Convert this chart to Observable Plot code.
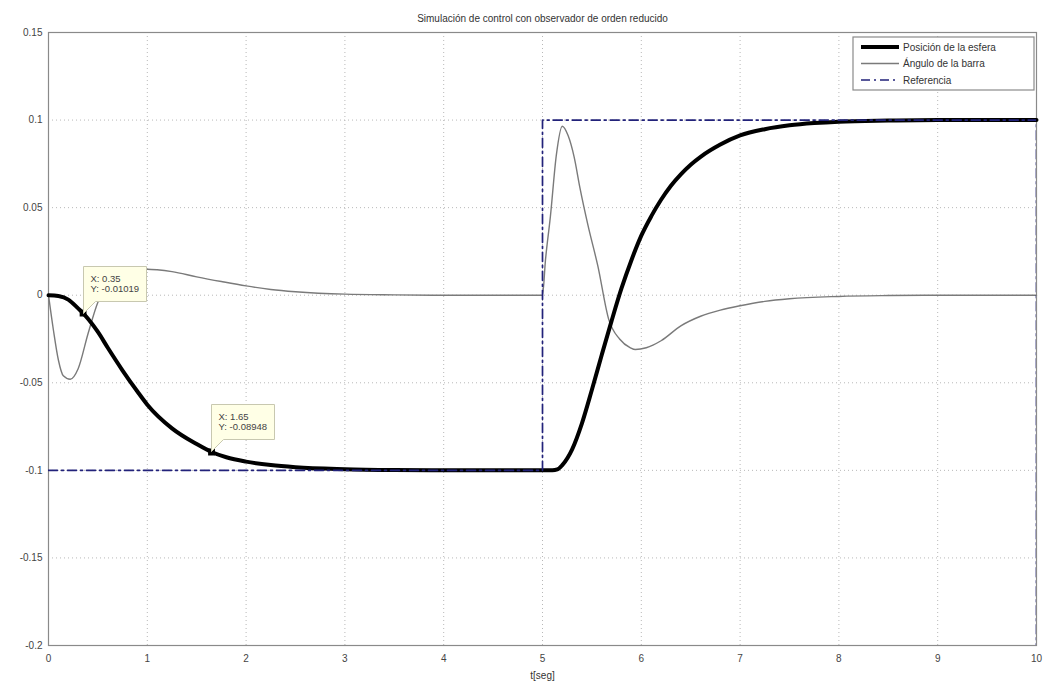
<!DOCTYPE html>
<html>
<head>
<meta charset="utf-8">
<script src="https://cdn.jsdelivr.net/npm/d3@7"></script>
<script src="https://cdn.jsdelivr.net/npm/@observablehq/plot@0.6"></script>
<style>
  html, body { margin: 0; padding: 0; background: #fff; }
  #chart { width: 1044px; height: 689px; }
</style>
</head>
<body>
<div id="chart"></div>
<script>
// ---- Data ----
const titleText = "Simulación de control con observador de orden reducido";
const xLabel = "t[seg]";
const xTicks = [0, 1, 2, 3, 4, 5, 6, 7, 8, 9, 10];
const yTicks = [-0.2, -0.15, -0.1, -0.05, 0, 0.05, 0.1, 0.15];
const yTickLabels = ["-0.2", "-0.15", "-0.1", "-0.05", "0", "0.05", "0.1", "0.15"];

const seriesNames = ["Posición de la esfera", "Ángulo de la barra", "Referencia"];

// Posición de la esfera
const posT = [0, 0.1, 0.2, 0.3, 0.35, 0.4, 0.5, 0.6, 0.75, 0.9, 1.0, 1.25, 1.5, 1.65, 1.8, 2.0, 2.25, 2.5, 3.0, 3.5, 4.0, 4.5, 5.0, 5.1, 5.15, 5.2, 5.3, 5.4, 5.5, 5.6, 5.7, 5.8, 5.9, 6.0, 6.1, 6.2, 6.3, 6.4, 6.5, 6.6, 6.8, 7.0, 7.25, 7.5, 7.75, 8.0, 8.5, 9.0, 10];
const posV = [0, -0.0005, -0.0025, -0.0075, -0.0102, -0.0135, -0.021, -0.03, -0.043, -0.055, -0.0625, -0.076, -0.085, -0.0895, -0.0925, -0.095, -0.097, -0.0982, -0.0993, -0.0998, -0.1, -0.1, -0.1, -0.1, -0.0995, -0.097, -0.088, -0.073, -0.054, -0.034, -0.0145, 0.004, 0.02, 0.034, 0.045, 0.0545, 0.0625, 0.069, 0.0745, 0.079, 0.086, 0.0912, 0.0948, 0.097, 0.0983, 0.0991, 0.0997, 0.1, 0.1];

// Ángulo de la barra
const angT = [0, 0.05, 0.1, 0.15, 0.22, 0.3, 0.4, 0.5, 0.6, 0.7, 0.85, 1.0, 1.1, 1.25, 1.5, 1.75, 2.0, 2.25, 2.5, 3.0, 3.5, 4.0, 5.0, 5.03, 5.08, 5.14, 5.2, 5.26, 5.32, 5.38, 5.46, 5.56, 5.67, 5.78, 5.89, 5.94, 6.05, 6.2, 6.4, 6.6, 6.8, 7.0, 7.25, 7.5, 8.0, 8.5, 9.0, 10];
const angV = [0, -0.02, -0.037, -0.046, -0.048, -0.042, -0.022, -0.004, 0.006, 0.011, 0.014, 0.0148, 0.0145, 0.0135, 0.0105, 0.0078, 0.0053, 0.0033, 0.002, 0.0006, 0.0002, 0, 0, 0.02, 0.045, 0.08, 0.0965, 0.091, 0.079, 0.061, 0.04, 0.0167, -0.0138, -0.025, -0.03, -0.031, -0.03, -0.026, -0.0175, -0.012, -0.0085, -0.006, -0.0035, -0.002, -0.0007, -0.0002, 0, 0];

// Referencia
const refT = [0, 5, 5, 10, 10];
const refV = [-0.1, -0.1, 0.1, 0.1, -0.3];

// Data tips
const tipX = [0.35, 1.65];
const tipY = [-0.0102, -0.0895];
const tipLabelY = ["-0.01019", "-0.08948"];

// ---- Build tables ----
const position = posT.map((t, i) => ({t, v: posV[i]}));
const angle = angT.map((t, i) => ({t, v: angV[i]}));
const reference = refT.map((t, i) => ({t, v: refV[i]}));
const tips = tipX.map((x, i) => ({x, y: tipY[i], label: tipLabelY[i]}));

const font = "'Liberation Sans', Arial, sans-serif";
const gridStyle = {stroke: "#b8b8b8", strokeOpacity: 1, strokeDasharray: "1,3", strokeWidth: 1};

const svg = Plot.plot({
  width: 1044,
  height: 689,
  marginLeft: 48,
  marginRight: 8,
  marginTop: 32,
  marginBottom: 44,
  style: {fontFamily: font, fontSize: "10px", color: "#444", background: "white"},
  x: {domain: [0, 10]},
  y: {domain: [-0.2, 0.15]},
  marks: [
    Plot.gridX(xTicks, gridStyle),
    Plot.gridY(yTicks, gridStyle),
    Plot.frame({stroke: "#8a8a8a", strokeWidth: 1.2}),
    Plot.axisX(xTicks, {tickSize: 0, tickPadding: 9, label: null, tickFormat: d => String(d)}),
    Plot.axisY(yTicks, {tickSize: 0, tickPadding: 6, label: null, tickFormat: d => yTickLabels[yTicks.indexOf(d)]}),
    Plot.line(angle, {x: "t", y: "v", stroke: "#7a7a7a", strokeWidth: 1.4, curve: "monotone-x"}),
    Plot.line(position, {x: "t", y: "v", stroke: "black", strokeWidth: 4, curve: "monotone-x"}),
    Plot.line(reference, {x: "t", y: "v", stroke: "#22227a", strokeWidth: 1.7, strokeDasharray: "9,4,2,4", clip: true}),
    Plot.dot(tips, {x: "x", y: "y", symbol: "square", r: 3, fill: "black", stroke: "black"}),
    Plot.tip(tips, {
      x: "x", y: "y",
      title: d => `X: ${d.x}\nY: ${d.label}`,
      anchor: "bottom-left",
      fill: "#ffffe6",
      stroke: "#c8c8b0",
      fontSize: 9.5,
      pathFilter: "none",
      textPadding: 7,
      pointerSize: 12
    }),
    Plot.text([titleText], {text: d => d, frameAnchor: "top", dy: -18, fontSize: 10, fill: "#333"}),
    Plot.text([xLabel], {text: d => d, frameAnchor: "bottom", dy: 33, fontSize: 10, fill: "#333"})
  ]
});

// ---- Legend (inside the axes, top-right) ----
const lg = d3.select(svg).append("g")
  .attr("font-family", font).attr("font-size", 10).attr("text-anchor", "start");
const lx = 853, ly = 37, lw = 181, lh = 53;
lg.append("rect").attr("x", lx).attr("y", ly).attr("width", lw).attr("height", lh)
  .attr("fill", "white").attr("stroke", "#8a8a8a").attr("stroke-width", 1.2);
const legendStyles = [
  {stroke: "black", width: 4, dash: null},
  {stroke: "#7a7a7a", width: 1.4, dash: null},
  {stroke: "#22227a", width: 1.7, dash: "9,4,2,4"}
];
seriesNames.forEach((name, i) => {
  const cy = ly + 10 + i * 16.5;
  const s = legendStyles[i];
  const ln = lg.append("line").attr("x1", lx + 8).attr("x2", lx + 46).attr("y1", cy).attr("y2", cy)
    .attr("stroke", s.stroke).attr("stroke-width", s.width);
  if (s.dash) ln.attr("stroke-dasharray", s.dash);
  lg.append("text").attr("x", lx + 50).attr("y", cy).attr("dy", "0.35em")
    .attr("text-anchor", "start").attr("font-size", 10).attr("fill", "#333").text(name);
});

document.getElementById("chart").appendChild(svg);
</script>
</body>
</html>
